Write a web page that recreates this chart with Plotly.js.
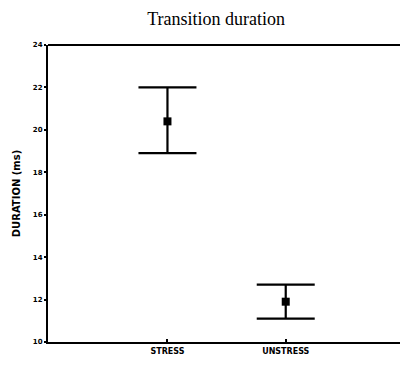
<!DOCTYPE html>
<html><head><meta charset="utf-8">
<script src="https://cdn.plot.ly/plotly-3.0.1.min.js"></script>
<style>html,body{margin:0;padding:0;background:#fff;overflow:hidden}#chart{width:404px;height:365px}</style>
</head><body><div id="chart"></div>
<script>
var categories = ["STRESS", "UNSTRESS"];
var means = [20.4, 11.9];
var errPlus = [1.6, 0.8];
var errMinus = [1.5, 0.8];
var yTicks = [10, 12, 14, 16, 18, 20, 22, 24];

var trace = {
  x: categories, y: means, type: 'scatter', mode: 'markers',
  marker: {symbol: 'square', size: 8, color: '#000'},
  error_y: {type: 'data', symmetric: false, array: errPlus, arrayminus: errMinus,
    color: '#000', thickness: 2.2, width: 29},
  showlegend: false, hoverinfo: 'none'
};
var layout = {
  width: 404, height: 365,
  margin: {l: 48, r: 0, t: 45, b: 23},
  paper_bgcolor: '#fff', plot_bgcolor: '#fff',
  title: {text: 'Transition duration', x: 0.535, xanchor: 'center', y: 0.95, yanchor: 'middle',
    font: {family: 'Liberation Serif, Times New Roman, serif', size: 18, color: '#000'}},
  shapes: [{type: 'line', xref: 'paper', yref: 'paper', x0: 0, x1: 1, y0: 1, y1: 1,
    line: {color: '#000', width: 2}}],
  xaxis: {type: 'category', range: [-1.01, 2.0], showline: true, linecolor: '#000', linewidth: 2,
    showgrid: false, zeroline: false, ticks: 'inside', ticklen: 3, tickwidth: 2, tickcolor: '#000',
    tickfont: {family: 'DejaVu Sans, sans-serif', size: 8, color: '#000', weight: 'bold'}},
  yaxis: {range: [10, 24], tickvals: yTicks, ticktext: yTicks.map(String), showline: true, linecolor: '#000', linewidth: 2,
    showgrid: false, zeroline: false, ticks: 'outside', ticklen: 2, tickwidth: 2, tickcolor: '#000',
    tickfont: {family: 'DejaVu Sans, sans-serif', size: 7, color: '#000', weight: 'bold'},
    title: {text: 'DURATION (ms)', standoff: 10,
      font: {family: 'DejaVu Sans, sans-serif', size: 10, color: '#000', weight: 'bold'}}}
};
Plotly.newPlot('chart', [trace], layout, {displayModeBar: false, staticPlot: true});
</script></body></html>
